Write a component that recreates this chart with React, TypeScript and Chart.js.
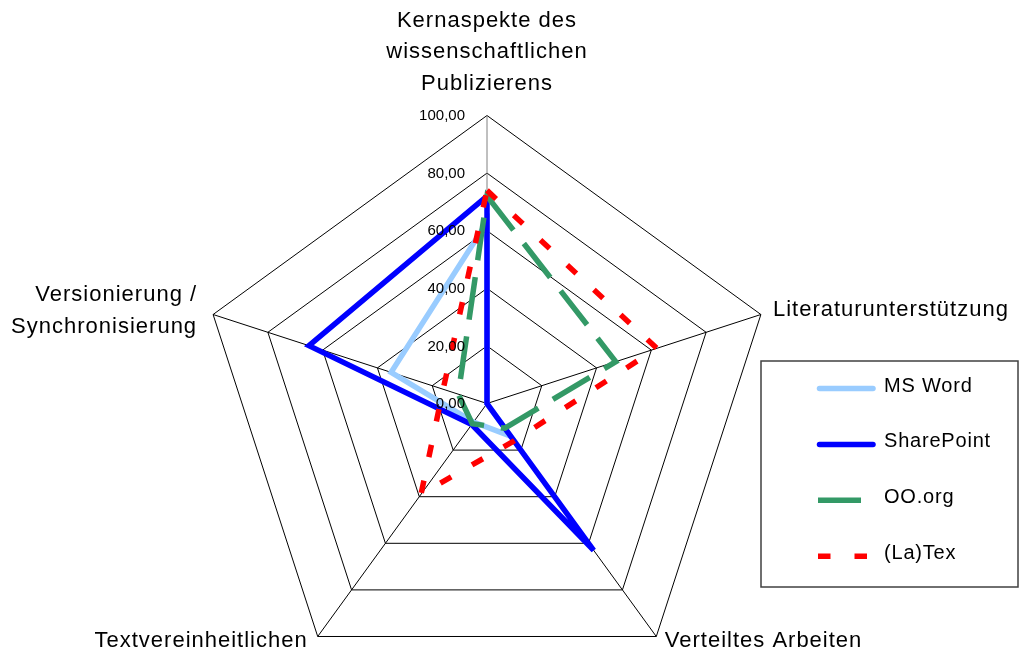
import React, { useEffect, useRef } from 'react';
import { Chart, registerables } from 'chart.js';

Chart.register(...registerables);

// ---- data ----
const categories: string[][] = [
  ['Kernaspekte des', 'wissenschaftlichen', 'Publizierens'],
  ['Literaturunterstützung'],
  ['Verteiltes Arbeiten'],
  ['Textvereinheitlichen'],
  ['Versionierung /', 'Synchronisierung'],
];
const seriesNames = ['MS Word', 'SharePoint', 'OO.org', '(La)Tex'];
const msWord = [63, 0, 14, 8, 35];
const sharePoint = [72, 0, 63, 9, 65];
const ooOrg = [72, 47, 10.6, 8.7, 10.5];
const laTex = [74, 62, 16, 39, 16];
const scaleMin = 0;
const scaleMax = 100;
const scaleStep = 20;

const FONT = '"Liberation Sans", Arial, sans-serif';
const fmt = (v: number) => v.toFixed(2).replace('.', ',');

// label placement relative to the outer vertex of each axis
const placements = [
  { align: 'center', dx: 0, dy: -88.7 },
  { align: 'left', dx: 12, dy: 1.5 },
  { align: 'left', dx: 8.5, dy: 10.5 },
  { align: 'right', dx: -10, dy: 10.5 },
  { align: 'right', dx: -16, dy: -13.5 },
];

const overlay = {
  id: 'overlay',
  afterDatasetsDraw(chart: any) {
    const ctx: CanvasRenderingContext2D = chart.ctx;
    const s = chart.scales.r;
    ctx.save();
    // tick labels
    ctx.font = `15px ${FONT}`;
    (ctx as any).letterSpacing = '0px';
    ctx.fillStyle = '#000';
    ctx.textAlign = 'right';
    ctx.textBaseline = 'middle';
    s.ticks.forEach((t: any) => {
      const p = s.getPointPositionForValue(0, t.value);
      ctx.fillText(fmt(t.value), p.x - 22, p.y + 0.5);
    });
    // point labels
    ctx.font = `22px ${FONT}`;
    (ctx as any).letterSpacing = '1px';
    ctx.textBaseline = 'alphabetic';
    categories.forEach((lines, i) => {
      const v = s.getPointPosition(i, s.drawingArea);
      const pl = placements[i];
      ctx.textAlign = pl.align as CanvasTextAlign;
      lines.forEach((line, j) => {
        ctx.fillText(line, v.x + pl.dx, v.y + pl.dy + j * 31.5);
      });
    });
    // legend
    const lx = 761, ly = 361, lw = 257, lh = 226;
    ctx.strokeStyle = '#404040';
    ctx.lineWidth = 1.5;
    ctx.setLineDash([]);
    ctx.fillStyle = '#ffffff';
    ctx.fillRect(lx, ly, lw, lh);
    ctx.strokeRect(lx, ly, lw, lh);
    ctx.font = `20px ${FONT}`;
    (ctx as any).letterSpacing = '0.8px';
    ctx.textAlign = 'left';
    ctx.textBaseline = 'alphabetic';
    chart.data.datasets.forEach((ds: any, i: number) => {
      const base = 391.5 + 55.9 * i;
      const y = base - 3;
      ctx.save();
      ctx.strokeStyle = ds.borderColor;
      ctx.lineWidth = ds.borderWidth;
      ctx.lineCap = ds.borderCapStyle;
      ctx.setLineDash(ds.borderDash || []);
      ctx.beginPath();
      if (ds.borderCapStyle === 'round') {
        ctx.moveTo(819.5, y);
        ctx.lineTo(873, y);
      } else {
        ctx.moveTo(818, y);
        ctx.lineTo(876, y);
      }
      ctx.stroke();
      ctx.restore();
      ctx.fillStyle = '#000';
      ctx.fillText(ds.label, 884, base);
    });
    ctx.restore();
  },
};

export default function App() {
  const ref = useRef<HTMLCanvasElement | null>(null);
  useEffect(() => {
    if (!ref.current) return;
    const mk = (label: string, data: number[], color: string, dash: number[], cap: string, order: number) => ({
      label,
      data,
      borderColor: color,
      backgroundColor: color,
      borderWidth: 5.5,
      borderDash: dash,
      borderCapStyle: cap,
      borderJoinStyle: 'miter',
      fill: false,
      pointRadius: 0,
      pointHoverRadius: 0,
      tension: 0,
      order,
    });
    const chart = new Chart(ref.current, {
      type: 'radar',
      data: {
        labels: categories,
        datasets: [
          mk(seriesNames[0], msWord, '#99CCFF', [], 'round', 4),
          mk(seriesNames[1], sharePoint, '#0000FF', [], 'round', 3),
          mk(seriesNames[2], ooOrg, '#339966', [43, 17], 'butt', 2),
          mk(seriesNames[3], laTex, '#FF0000', [12.5, 24], 'butt', 1),
        ] as any,
      },
      options: {
        animation: false,
        responsive: true,
        maintainAspectRatio: false,
        events: [],
        plugins: { legend: { display: false }, tooltip: { enabled: false } },
        scales: {
          r: {
            min: scaleMin,
            max: scaleMax,
            beginAtZero: true,
            ticks: { display: false, stepSize: scaleStep },
            pointLabels: { display: false },
            grid: { color: '#000000', lineWidth: 1, circular: false },
            angleLines: {
              color: (c: any) => (c.index === 0 ? '#808080' : '#000000'),
              lineWidth: 1,
            },
            afterFit: (scale: any) => {
              scale.xCenter = 487;
              scale.yCenter = 403.5;
              scale.drawingArea = 288;
            },
          } as any,
        },
      },
      plugins: [overlay],
    });
    return () => chart.destroy();
  }, []);
  return (
    <div style={{ position: 'absolute', left: 0, top: 0, width: 1019, height: 651, background: '#fff' }}>
      <canvas ref={ref} />
    </div>
  );
}
